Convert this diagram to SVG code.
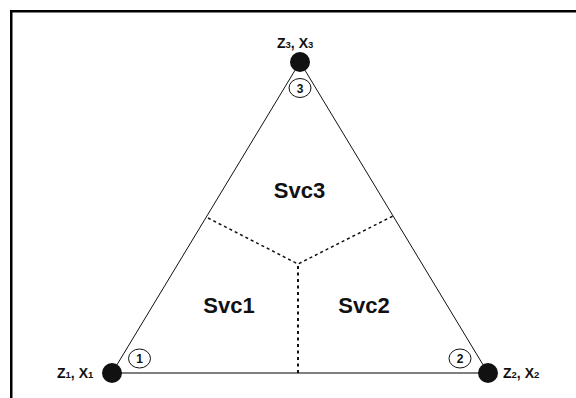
<svg xmlns="http://www.w3.org/2000/svg" width="576" height="398" viewBox="0 0 576 398">
  <style>
    .frame { fill: none; stroke: #000; stroke-width: 2.5; }
    .edge { fill: none; stroke: #111; stroke-width: 1; }
    .base { fill: none; stroke: #555; stroke-width: 1.3; }
    .split { fill: none; stroke: #111; stroke-width: 1.5; stroke-dasharray: 3 3; }
    .splitv { fill: none; stroke: #111; stroke-width: 2; stroke-dasharray: 3 3.5; }
    .dot { fill: #111; }
    .tag { fill: #fff; stroke: #111; stroke-width: 1; }
    text { font-family: "Liberation Sans", Arial, sans-serif; font-weight: bold; fill: #111; }
    .svc { font-size: 22px; text-anchor: middle; }
    .num { font-size: 12px; text-anchor: middle; }
    .lbl { font-size: 14px; }
    .sub { font-size: 9.5px; }
  </style>

  <!-- outer frame (top and left edges) -->
  <path class="frame" d="M11.25 398 V11.25 H576"/>

  <g id="connectors">
    <!-- triangle sides -->
    <line class="edge" x1="300" y1="62" x2="112" y2="373"/>
    <line class="edge" x1="300" y1="62" x2="488" y2="373"/>
    <line class="base" x1="112" y1="373" x2="488" y2="373"/>
    <!-- service boundaries -->
    <polyline class="split" points="208,218 298,264 393,216"/>
    <line class="splitv" x1="298" y1="266" x2="298" y2="373"/>
  </g>

  <g id="node-1">
    <circle class="dot" cx="112" cy="373" r="10"/>
    <ellipse class="tag" cx="139.5" cy="358.5" rx="11" ry="9.5"/>
    <text class="num" x="139.5" y="363">1</text>
    <text class="lbl" x="57" y="378">Z<tspan class="sub">1</tspan>, X<tspan class="sub">1</tspan></text>
  </g>

  <g id="node-2">
    <circle class="dot" cx="488" cy="373" r="10"/>
    <ellipse class="tag" cx="460" cy="358.5" rx="11" ry="9.5"/>
    <text class="num" x="460" y="363">2</text>
    <text class="lbl" x="503" y="378">Z<tspan class="sub">2</tspan>, X<tspan class="sub">2</tspan></text>
  </g>

  <g id="node-3">
    <circle class="dot" cx="300" cy="62" r="10"/>
    <ellipse class="tag" cx="300" cy="88" rx="11" ry="9.5"/>
    <text class="num" x="300" y="92.5">3</text>
    <text class="lbl" x="277" y="48">Z<tspan class="sub">3</tspan>, X<tspan class="sub">3</tspan></text>
  </g>

  <g id="svc3"><text class="svc" x="299.5" y="198">Svc3</text></g>
  <g id="svc1"><text class="svc" x="229" y="313">Svc1</text></g>
  <g id="svc2"><text class="svc" x="364" y="313">Svc2</text></g>
</svg>
